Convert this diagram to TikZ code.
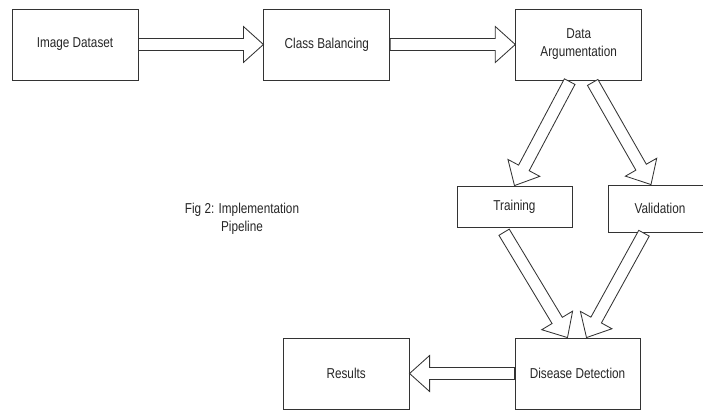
\documentclass[tikz,border=0pt]{standalone}
\usepackage{fontspec}
\setmainfont{Liberation Sans}[FakeStretch=0.82]
\usetikzlibrary{positioning,calc}

\begin{document}
\begin{tikzpicture}[
  box/.style={rectangle, draw=black!80, line width=0.6pt, minimum width=3.15cm, minimum height=1.775cm, align=center, text=black!85},
  small/.style={box, minimum width=2.875cm, minimum height=1.025cm},
  fat/.style={draw=black!80, line width=0.6pt, fill=white, line join=miter, to path={
    let \p1=($(\tikztotarget)!0.5cm!(\tikztostart)$) in
    ($(\tikztostart)!0.15cm!90:(\tikztotarget)$) -- ($(\p1)!0.15cm!90:(\tikztotarget)$)
    -- ($(\p1)!0.45cm!90:(\tikztotarget)$) -- (\tikztotarget)
    -- ($(\p1)!0.45cm!-90:(\tikztotarget)$) -- ($(\p1)!0.15cm!-90:(\tikztotarget)$)
    -- ($(\tikztostart)!0.15cm!-90:(\tikztotarget)$) -- cycle}},
  node distance=3.125cm,
  font=\fontsize{10.2}{12.8}\selectfont
]
\useasboundingbox (0,0) rectangle (17.575,-10.25);

\node[box] (img) at (1.875,-1.1125) {Image Dataset};
\node[box, right=of img] (bal) {Class Balancing};
\node[box, right=of bal] (aug) {Data\\Argumentation};
\node[small] (train) at (12.8625,-5.1625) {Training};
\node[small, minimum width=2.6cm, minimum height=1.175cm] (valid) at (16.5,-5.2125) {Validation};
\node[box, minimum width=3.125cm] (detect) at (14.4375,-9.3375) {Disease Detection};
\node[box, left=2.625cm of detect] (res) {Results};
\node[align=center, text=black!85] (cap) at (6.05,-5.475) {Fig 2: Implementation\\Pipeline};

% hollow block arrows
\path (img.east) edge[fat] (bal.west);
\path (bal.east) edge[fat] (aug.west);
\path ([xshift=-0.225cm,yshift=-0.03cm]aug.south) edge[fat] (train.north);
\path ([xshift=0.35cm,yshift=-0.05cm]aug.south) edge[fat] ([xshift=-0.225cm]valid.north);
\path ([xshift=-0.26cm,yshift=-0.12cm]train.south) edge[fat] ([xshift=-0.25cm]detect.north);
\path ([xshift=-0.4cm,yshift=-0.02cm]valid.south) edge[fat] ([xshift=0.225cm]detect.north);
\path (detect.west) edge[fat] (res.east);
\end{tikzpicture}
\end{document}
